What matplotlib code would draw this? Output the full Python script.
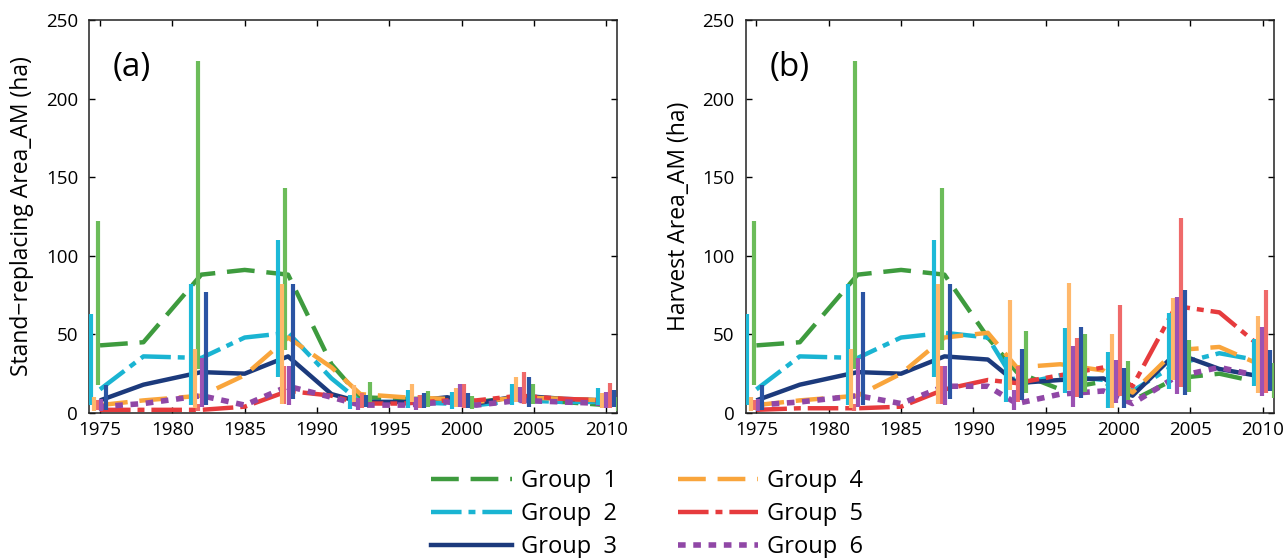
import numpy as np
import matplotlib
matplotlib.use("Agg")
import matplotlib.pyplot as plt
from matplotlib.lines import Line2D

plt.rcParams['font.family'] = ['Open Sans', 'DejaVu Sans']
plt.rcParams['lines.scale_dashes'] = False

# years where the group lines have vertices
line_years = [1975, 1978, 1982, 1985, 1988, 1991, 1993, 1996, 1999, 2001, 2004, 2007, 2010]
# centres of the range-bar clusters
bar_years = [1974.9, 1981.85, 1987.85, 1992.95, 1997.0, 2000.0, 2004.2, 2010.1]

group_names = ['Group  1', 'Group  2', 'Group  3', 'Group  4', 'Group  5', 'Group  6']

# panel (a): stand-replacing area, mean lines
a_g1 = [43, 45, 88, 91, 88, 31, 10, 9, 9, 7, 10, 7, 5]
a_g2 = [15, 36, 35, 48, 51, 22, 7, 7, 6, 5, 8, 7, 7]
a_g3 = [8, 18, 26, 25, 36, 12, 7, 7, 10, 6, 11, 9, 8]
a_g4 = [5, 8, 11, 24, 48, 29, 12, 10, 9, 7, 10, 9, 8]
a_g5 = [2, 2, 2, 4, 14, 11, 6, 6, 8, 8, 11, 9, 8]
a_g6 = [4, 6, 11, 5, 17, 10, 5, 5, 7, 5, 8, 7, 6]

# panel (a): ranges (low / high) per cluster
a_g1_lo = [18, 28, 40, 7, 4, 2.5, 6, 1.5]
a_g1_hi = [122, 224, 143, 20, 14, 10.7, 18.4, 10.3]
a_g2_lo = [5, 5, 23, 2.3, 3, 2.3, 5, 5]
a_g2_hi = [63, 82, 110, 11.4, 14.5, 13.5, 18.7, 15.6]
a_g3_lo = [2, 5, 9, 3.6, 3, 3, 4, 3.6]
a_g3_hi = [18, 77, 82, 11.4, 12.5, 12.5, 23, 14.6]
a_g4_lo = [1, 3, 6, 7.2, 7.2, 4, 7.2, 3]
a_g4_hi = [10, 41, 82, 18, 18.7, 15.6, 23, 12.5]
a_g5_lo = [2, 1, 6, 3, 3, 3, 6, 3]
a_g5_hi = [8, 6, 30, 12.5, 11.4, 18.4, 26, 18.8]
a_g6_lo = [1, 4, 5, 2, 2, 4, 7.2, 3]
a_g6_hi = [9, 35, 30, 9.3, 10.3, 18.4, 16.6, 13.6]

# panel (b): harvest area, mean lines
b_g1 = [43, 45, 88, 91, 88, 48, 26, 15, 20, 8, 22, 25, 19]
b_g2 = [15, 36, 35, 48, 51, 48, 18, 24, 21, 14, 31, 38, 33]
b_g3 = [8, 18, 26, 25, 36, 34, 19, 21, 22, 11, 38, 28, 23]
b_g4 = [5, 8, 11, 25, 48, 51, 29, 31, 27, 13, 40, 42, 30]
b_g5 = [2, 3, 3, 4, 15, 21, 19, 24, 29, 17, 68, 64, 41]
b_g6 = [5, 7, 11, 6, 17, 17, 6, 12, 14, 6, 23, 29, 23]

# panel (b): ranges (low / high) per cluster
b_g1_lo = [18, 28, 40, 13, 13.5, 8.3, 13.5, 9.5]
b_g1_hi = [122, 224, 143, 52, 50, 33, 46.6, 31.8]
b_g2_lo = [5, 5, 23, 7, 12.5, 3, 15, 17]
b_g2_hi = [63, 82, 110, 35.6, 54, 39, 63.5, 47]
b_g3_lo = [2, 5, 9, 8.3, 9.3, 3, 11.4, 13.8]
b_g3_hi = [18, 77, 82, 41, 54.6, 28.3, 78, 39.8]
b_g4_lo = [1, 3, 6, 14.6, 14.6, 3, 21, 12.7]
b_g4_hi = [10, 41, 82, 72, 82.6, 50, 73, 62]
b_g5_lo = [2, 1, 6, 7.2, 10, 11, 16.6, 12.7]
b_g5_hi = [8, 6, 30, 30, 48, 69, 124, 78]
b_g6_lo = [1, 4, 5, 2, 4, 6.4, 12, 10.6]
b_g6_hi = [9, 35, 30, 14.6, 42.4, 34, 74, 54.4]

line_colors = ['#3e9b3e', '#1ab4d2', '#1c3a7c', '#f9a53c', '#e63b3d', '#9047a6']
bar_colors = ['#6cbc5a', '#1cb9d8', '#2b54a3', '#ffb86b', '#ef6a6a', '#9b52b3']
line_styles = [(0, (20, 8.5)), (0, (22, 5, 5, 5)), '-', (0, (20, 8.5)),
               (0, (22, 5, 5, 5)), (0, (5.5, 5.5))]
line_widths = [3.2, 3.2, 3.2, 3.2, 3.2, 4.0]
# bar x offsets: first three clusters and the later ones
early_off = [-0.05, -0.55, 0.5, -0.3, -0.1, 0.2]
late_off = [0.7, -0.7, 0.42, -0.42, 0.14, -0.14]
# draw order of the bars (back to front)
bar_order = [4, 0, 1, 3, 5, 2]


def draw_panel(ax, lines, lows, highs, ylabel, tag):
    for i in range(6):
        ax.plot(line_years, lines[i], color=line_colors[i], ls=line_styles[i],
                lw=line_widths[i], solid_capstyle='butt', dash_capstyle='butt', zorder=2)
    for i in bar_order:
        xs = [c + (early_off[i] if k < 3 else late_off[i]) for k, c in enumerate(bar_years)]
        vl = ax.vlines(xs, lows[i], highs[i], colors=bar_colors[i], lw=3.0, zorder=3)
        vl.set_capstyle('butt')
    ax.set_xlim(1974.26, 2010.76)
    ax.set_ylim(0, 250)
    ax.set_xticks(range(1975, 2011, 5))
    ax.set_yticks(range(0, 251, 50))
    ax.tick_params(direction='in', length=4, width=1, top=True, right=True,
                   labelsize=13.5)
    ax.tick_params(axis='x', pad=6)
    ax.tick_params(axis='y', pad=8)
    for s in ax.spines.values():
        s.set_linewidth(1.1)
        s.set_color('#222222')
    ax.set_ylabel(ylabel, fontsize=16.5)
    ax.yaxis.set_label_coords(-0.104, 0.5)
    ax.text(0.045, 0.88, tag, transform=ax.transAxes, fontsize=24, va='center', ha='left')


fig = plt.figure(figsize=(12.87, 5.58), dpi=100)
ax1 = fig.add_axes([0.0694, 0.2599, 0.4103, 0.7043])
ax2 = fig.add_axes([0.5794, 0.2599, 0.4103, 0.7043])

draw_panel(ax1, [a_g1, a_g2, a_g3, a_g4, a_g5, a_g6],
           [a_g1_lo, a_g2_lo, a_g3_lo, a_g4_lo, a_g5_lo, a_g6_lo],
           [a_g1_hi, a_g2_hi, a_g3_hi, a_g4_hi, a_g5_hi, a_g6_hi],
           'Stand\u2212replacing Area_AM (ha)', '(a)')
draw_panel(ax2, [b_g1, b_g2, b_g3, b_g4, b_g5, b_g6],
           [b_g1_lo, b_g2_lo, b_g3_lo, b_g4_lo, b_g5_lo, b_g6_lo],
           [b_g1_hi, b_g2_hi, b_g3_hi, b_g4_hi, b_g5_hi, b_g6_hi],
           'Harvest Area_AM (ha)', '(b)')

handles = [Line2D([], [], color=line_colors[i], ls=line_styles[i], lw=line_widths[i],
                  dash_capstyle='butt') for i in range(6)]
fig.legend(handles, group_names, ncol=2, loc='center', bbox_to_anchor=(0.503, 0.079),
           frameon=False, fontsize=17, handlelength=3.4, handletextpad=0.4,
           columnspacing=2.55, labelspacing=0.38)

fig.savefig('out.png', dpi=100)
